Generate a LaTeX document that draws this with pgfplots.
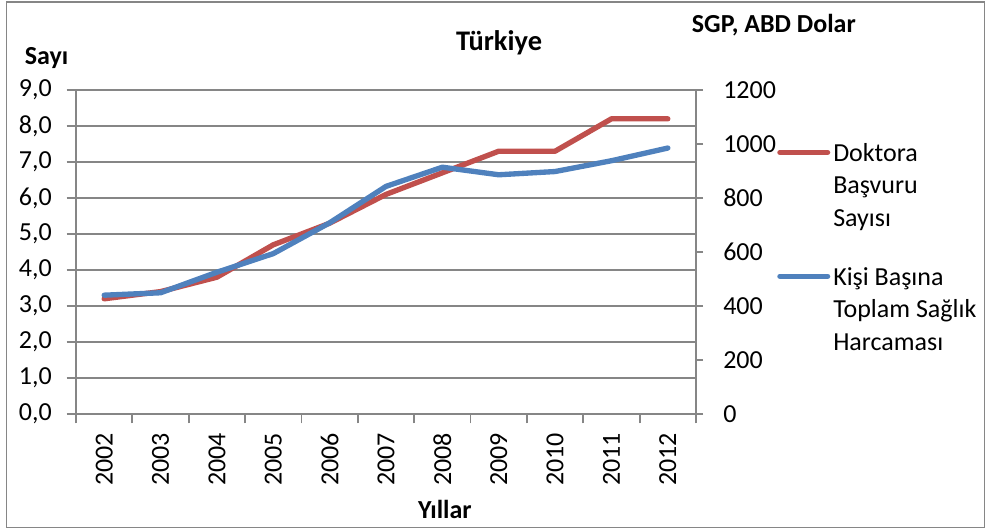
\documentclass[border=0pt]{standalone}
\usepackage{fontspec}
\setmainfont{Carlito}
\usepackage{pgfplots}
\pgfplotsset{compat=1.18}
\definecolor{exred}{HTML}{C0504D}
\definecolor{exblue}{HTML}{4F81BD}
\definecolor{exgray}{HTML}{868686}
\begin{document}
\fontsize{19.5pt}{24.4pt}\selectfont
\begin{tikzpicture}[x=0.75pt,y=0.75pt]
\useasboundingbox (0,0) rectangle (987,530);
\draw[exgray, line width=1pt] (6.5,2.5) rectangle (984.5,528);
\begin{axis}[
  at={(57pt,87pt)}, anchor=south west,
  scale only axis, width=465pt, height=243pt,
  xmin=-0.5, xmax=10.5, ymin=0, ymax=9,
  xtick={-0.5,0.5,...,10.5},
  x tick label as interval,
  xticklabels={2002,2003,2004,2005,2006,2007,2008,2009,2010,2011,2012},
  ytick={0,1,...,9},
  ymajorgrids,
  grid style={exgray, line width=1.3pt},
  axis line style={exgray, line width=1.3pt},
  tick style={exgray, line width=1.3pt},
  tick align=outside,
  major tick length=7pt,
  tick pos=left,
  /pgf/number format/assume math mode=true,
  y tick label style={/pgf/number format/fixed, /pgf/number format/fixed zerofill, /pgf/number format/precision=1, /pgf/number format/use comma},
  yticklabel shift=11pt,
  xticklabel shift=7.25pt,
  every y tick label/.append style={inner sep=0pt, anchor=east},
  every x tick label/.append style={inner sep=0pt, rotate=90, anchor=east},
  title={Türkiye},
  title style={at={(axis description cs:0.6823,1.0987)}, anchor=base, font=\fontsize{21.3pt}{25pt}\selectfont\bfseries},
  xlabel={Yıllar},
  every axis x label/.style={at={(axis description cs:0.595,-0.324)}, anchor=base, font=\bfseries},
  ylabel={Sayı},
  every axis y label/.style={at={(axis description cs:-0.0968,1.0802)}, anchor=base west, font=\bfseries},
]
\addplot[exred, line width=4pt, line join=round, line cap=round] coordinates {
  (0,3.2) (1,3.4) (2,3.8) (3,4.7) (4,5.3) (5,6.1) (6,6.7) (7,7.3) (8,7.3) (9,8.2) (10,8.2)};
\end{axis}
\begin{axis}[
  at={(57pt,87pt)}, anchor=south west,
  scale only axis, width=465pt, height=243pt,
  xmin=-0.5, xmax=10.5, ymin=0, ymax=1200,
  ytick={0,200,...,1200},
  axis x line=none, axis y line*=right,
  axis line style={exgray, line width=1.3pt},
  tick style={exgray, line width=1.3pt},
  tick align=outside,
  major tick length=5.25pt,
  /pgf/number format/assume math mode=true,
  y tick label style={/pgf/number format/1000 sep={}},
  yticklabel shift=15pt,
  every y tick label/.append style={inner sep=0pt, anchor=west},
  ylabel={SGP, ABD Dolar},
  every axis y label/.style={at={(axis description cs:0.979,1.178)}, anchor=base west, font=\bfseries},
  legend image code/.code={\draw[#1, line cap=round] (2pt,6.75pt) -- (37.75pt,6.75pt);},
  legend style={at={(axis description cs:1.1306,0.836)}, anchor=north west,
    draw=none, fill=none, inner sep=0pt, row sep=76.5pt, column sep=2.25pt,
    cells={anchor=base west}, nodes={inner sep=0pt}},
]
\addlegendimage{exred, line width=4pt}
\addlegendentry{\parbox[t]{130pt}{\raggedright Doktora\\Başvuru\\Sayısı}}
\addplot[exblue, line width=4pt, line join=round, line cap=round] coordinates {
  (0,440) (1,449) (2,525) (3,594) (4,708) (5,843) (6,914) (7,886) (8,898) (9,938) (10,985)};
\addlegendentry{\parbox[t]{130pt}{\raggedright Kişi Başına\\Toplam Sağlık\\Harcaması}}
\end{axis}
\end{tikzpicture}
\end{document}
